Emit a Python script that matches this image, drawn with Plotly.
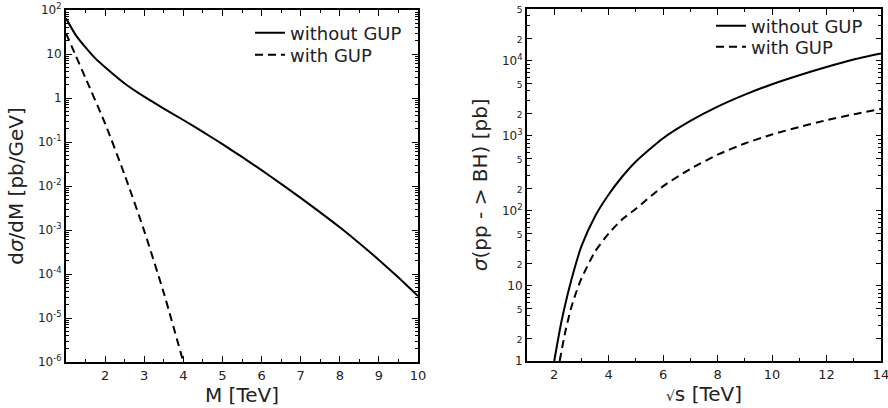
import plotly.graph_objects as go

# ---- Left panel: dsigma/dM vs M ----
m_without = [1.0, 1.25, 1.5, 1.75, 2.0, 2.5, 3.0, 3.5, 4.0, 4.5, 5.0, 5.5, 6.0, 6.5, 7.0, 7.5, 8.0, 8.5, 9.0, 9.5, 10.0]
dsdm_without = [64.6, 26.9, 14.1, 7.94, 5.01, 2.14, 1.07, 0.575, 0.316, 0.170, 0.0891, 0.0457, 0.0229, 0.0112,
                0.00537, 0.00251, 0.00115, 0.000501, 0.000209, 0.0000832, 0.0000316]
m_with = [1.0, 1.25, 1.5, 2.0, 2.5, 3.0, 3.5, 4.0]
dsdm_with = [29.5, 9.1, 2.82, 0.263, 0.0178, 0.000955, 0.0000372, 0.000001]

# ---- Right panel: sigma(pp->BH) vs sqrt(s) ----
s_without = [2.0, 2.25, 2.5, 2.75, 3.0, 3.5, 4.0, 4.5, 5.0, 6.0, 7.0, 8.0, 9.0, 10.0, 11.0, 12.0, 13.0, 14.0]
sig_without = [1.0, 3.16, 7.94, 17.4, 33.9, 85.1, 166, 288, 457, 933, 1585, 2455, 3548, 4898, 6457, 8318, 10471, 12589]
s_with = [2.2, 2.4, 2.6, 2.8, 3.0, 3.5, 4.0, 4.5, 5.0, 6.0, 7.0, 8.0, 9.0, 10.0, 11.0, 12.0, 13.0, 14.0]
sig_with = [1.0, 2.40, 4.79, 8.13, 12.6, 28.8, 50.1, 77.6, 107, 214, 363, 562, 794, 1047, 1318, 1622, 1950, 2291]

legend_names = ["without GUP", "with GUP"]

# tick labels
left_xticks = [2, 3, 4, 5, 6, 7, 8, 9, 10]
left_yticks = [1e-6, 1e-5, 1e-4, 1e-3, 1e-2, 1e-1, 1, 10, 100]
left_ylabels = ["10<sup>-6</sup>", "10<sup>-5</sup>", "10<sup>-4</sup>", "10<sup>-3</sup>",
                "10<sup>-2</sup>", "10<sup>-1</sup>", "1", "10", "10<sup>2</sup>"]
right_xticks = [2, 4, 6, 8, 10, 12, 14]
right_yticks = [1, 2, 5, 10, 20, 50, 100, 200, 500, 1000, 2000, 5000, 10000, 20000, 50000]
sm = "<span style='font-size:9px'>%s</span>"
right_ylabels = ["1", sm % "2", sm % "5", "10", sm % "2", sm % "5", "10<sup>2</sup>", sm % "2", sm % "5",
                 "10<sup>3</sup>", sm % "2", sm % "5", "10<sup>4</sup>", sm % "2", sm % "5"]

FONT = "DejaVu Sans"
TXT = "#222"
W, H = 888, 408
fig = go.Figure()

line_solid = dict(color="black", width=2)
line_dash = dict(color="black", width=2, dash="8px,5px")

fig.add_trace(go.Scatter(x=m_without, y=dsdm_without, mode="lines", name=legend_names[0],
                         line=dict(**line_solid, shape="spline", smoothing=0.6),
                         xaxis="x", yaxis="y", legend="legend"))
fig.add_trace(go.Scatter(x=m_with, y=dsdm_with, mode="lines", name=legend_names[1],
                         line=dict(**line_dash, shape="spline", smoothing=0.6),
                         xaxis="x", yaxis="y", legend="legend2"))
fig.add_trace(go.Scatter(x=s_without, y=sig_without, mode="lines", name=legend_names[0],
                         line=dict(**line_solid, shape="spline", smoothing=0.6),
                         xaxis="x2", yaxis="y2", legend="legend3"))
fig.add_trace(go.Scatter(x=s_with, y=sig_with, mode="lines", name=legend_names[1],
                         line=dict(**line_dash, shape="spline", smoothing=0.6),
                         xaxis="x2", yaxis="y2", legend="legend4"))


def minor_log(lo, hi):
    vals = []
    for e in range(lo, hi + 1):
        for d in range(2, 10):
            vals.append(d * 10 ** e)
    return vals


axis_common = dict(showline=True, linecolor="black", linewidth=2, mirror="allticks", automargin=False,
                   ticks="inside", tickcolor="black", tickwidth=1, showgrid=False, zeroline=False,
                   ticklabeloverflow="allow",
                   title_font=dict(family=FONT, size=20, color=TXT))
xfont = dict(family=FONT, size=13, color=TXT)
yfont = dict(family=FONT, size=12, color=TXT)


def leg(xpx, ypx):
    return dict(x=xpx / W, y=1 - ypx / H, xanchor="left", yanchor="middle", bgcolor="rgba(0,0,0,0)",
                font=dict(family=FONT, size=18, color=TXT), itemwidth=30)


fig.update_layout(
    width=W, height=H,
    margin=dict(l=0, r=0, t=0, b=0, autoexpand=False),
    paper_bgcolor="white", plot_bgcolor="white",
    font=dict(family=FONT, color=TXT),
    xaxis=dict(domain=[66 / W, 418 / W], range=[1, 10], anchor="y",
               tickvals=left_xticks, ticklen=6, tickfont=xfont,
               minor=dict(tickvals=[1.5, 2.5, 3.5, 4.5, 5.5, 6.5, 7.5, 8.5, 9.5], ticks="inside",
                          ticklen=3, tickcolor="black"),
               title=dict(text="M [TeV]", standoff=2), **axis_common),
    yaxis=dict(domain=[1 - 362 / H, 1 - 10 / H], type="log", range=[-6, 2], anchor="x",
               tickvals=left_yticks, ticktext=left_ylabels, ticklen=6, tickfont=yfont,
               minor=dict(tickvals=minor_log(-6, 1), ticks="inside", ticklen=3, tickcolor="black"),
               title=dict(text="d<i>σ</i>/dM [pb/GeV]", standoff=9), **axis_common),
    xaxis2=dict(domain=[527 / W, 881 / W], range=[1, 14], anchor="y2",
                tickvals=right_xticks, ticklen=6, tickfont=xfont,
                minor=dict(tickvals=[3, 5, 7, 9, 11, 13], ticks="inside", ticklen=3, tickcolor="black"),
                title=dict(text="<span style='font-size:14px'>√</span>s [TeV]", standoff=2), **axis_common),
    yaxis2=dict(domain=[1 - 361 / H, 1 - 8.5 / H], type="log", range=[0, 4.69897], anchor="x2",
                tickvals=right_yticks, ticktext=right_ylabels, ticklen=5, tickfont=yfont,
                minor=dict(tickvals=[v for v in minor_log(0, 4) if str(v)[0] not in "25"],
                           ticks="inside", ticklen=3, tickcolor="black"),
                title=dict(text="<i>σ</i>(pp - > BH) [pb]", standoff=9), **axis_common),
    legend=leg(250, 33),
    legend2=leg(250, 55),
    legend3=leg(711, 26),
    legend4=leg(711, 47),
    showlegend=True,
)

fig.write_html("out.html", config={"displayModeBar": False},
               post_script="document.body.style.margin='0px';")
